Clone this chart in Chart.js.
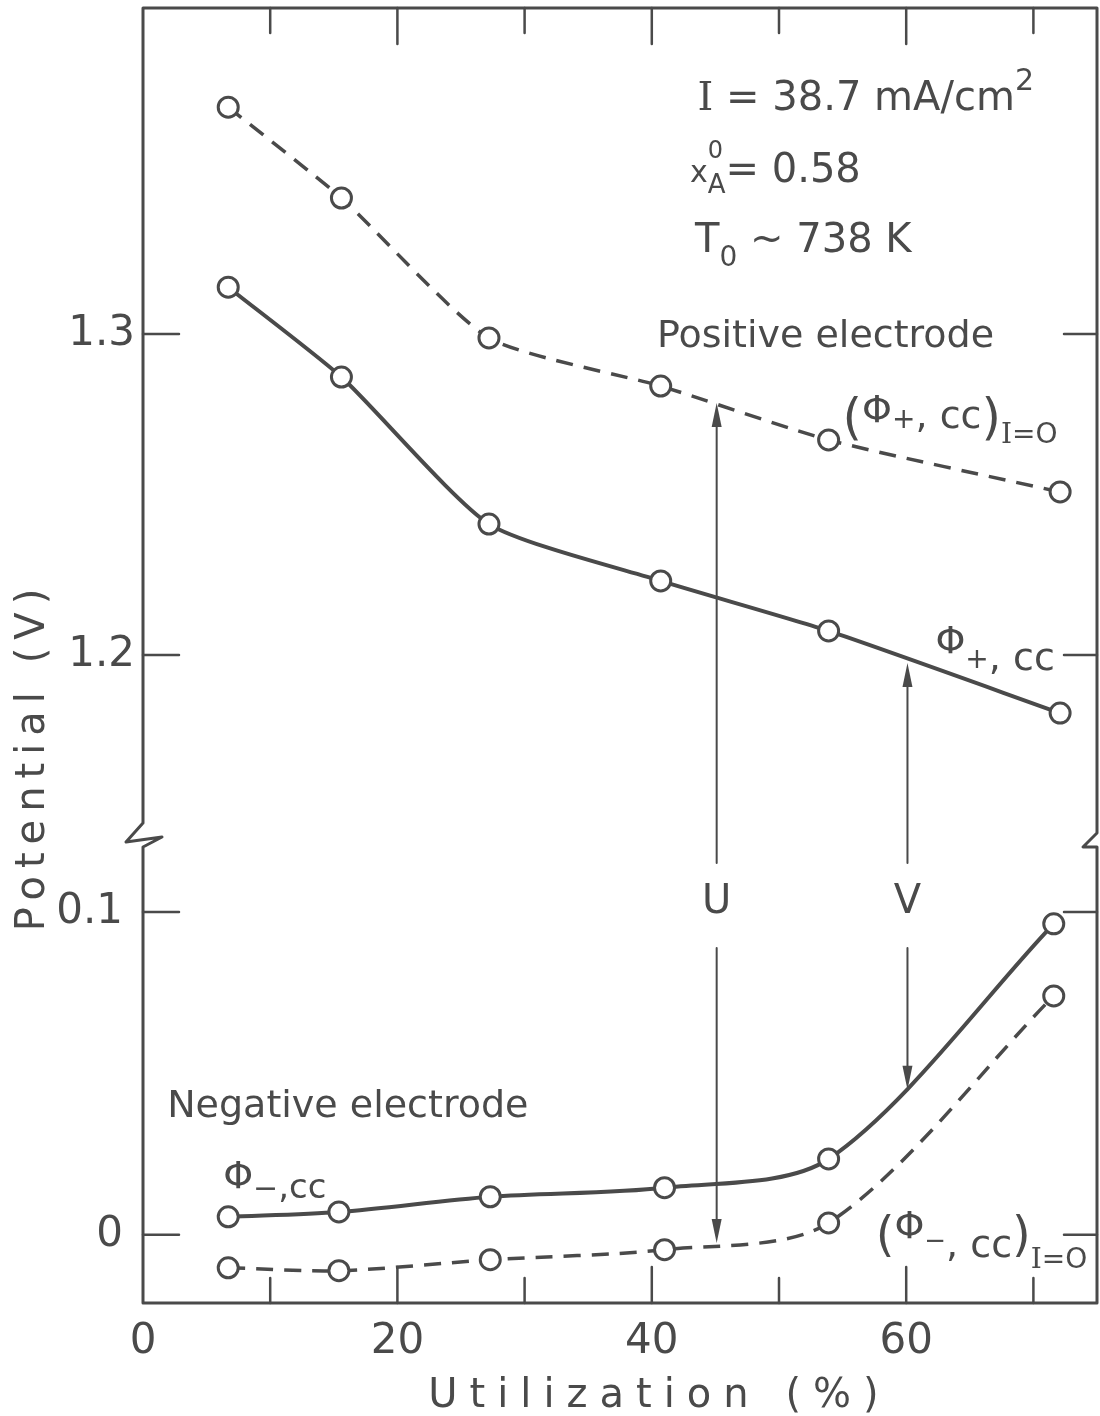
<!DOCTYPE html>
<html>
<head>
<meta charset="utf-8">
<script src="https://cdn.jsdelivr.net/npm/chart.js@4.4.1/dist/chart.umd.min.js"></script>
<style>
  html, body { margin: 0; padding: 0; background: #fff; }
</style>
</head>
<body>
<canvas id="chart" width="1100" height="1416"></canvas>
<script>
// Utilization (%) of the measured points
const utilPos = [6.7, 15.6, 27.2, 40.7, 53.9, 72.1];
const utilNeg = [6.7, 15.4, 27.3, 41.0, 53.9, 71.6];

// Potentials (V)
const phiPlusOpen  = [1.3707, 1.3424, 1.2988, 1.2838, 1.2670, 1.2508];   // (Φ+,cc) I=0
const phiPlus      = [1.3146, 1.2866, 1.2408, 1.2231, 1.2075, 1.1819];   // Φ+,cc
const phiMinus     = [0.0056, 0.0071, 0.0118, 0.0146, 0.0235, 0.0963];   // Φ-,cc
const phiMinusOpen = [-0.0102, -0.0111, -0.0077, -0.0046, 0.0037, 0.0740]; // (Φ-,cc) I=0

// axes
const xTicks = [0, 10, 20, 30, 40, 50, 60, 70];
const xLabels = [0, 20, 40, 60];
const upperTicks = [1.2, 1.3];
const lowerTicks = [0, 0.1];

const ink = '#4a4a4a';
const SANS = '"DejaVu Sans"';
const SERIF = '"DejaVu Serif"';

// U / V arrows: x in %, tips in V on the upper / lower axis
const arrows = [
  { label: 'U', x: 45.1, top: 1.2785, bottom: -0.0025 },
  { label: 'V', x: 60.1, top: 1.1975, bottom: 0.0449 },
];
const arrowLabelAt = 0.1028;

// text notes, anchored at left/baseline in data units
const notes = [
  { x: 43.6, y: 1.3698, axis: 'yHigh', runs: [{ t: 'I', size: 40, serif: true }, { t: ' = 38.7 mA/cm', size: 40 }, { t: '2', size: 30, dy: -20 }] },
  { x: 43.0, y: 1.3474, axis: 'yHigh', runs: [{ t: 'x', size: 30 }, { t: '0', size: 24, dy: -24, hold: true }, { t: 'A', size: 26, dy: 11 }, { t: '= 0.58', size: 40 }] },
  { x: 43.4, y: 1.3255, axis: 'yHigh', runs: [{ t: 'T', size: 40 }, { t: '0', size: 28, dy: 14 }, { t: ' ~ 738 K', size: 40 }] },
  { x: 40.4, y: 1.2960, axis: 'yHigh', runs: [{ t: 'Positive electrode', size: 38 }] },
  { x: 55.0, y: 1.2707, axis: 'yHigh', runs: [{ t: '(', size: 50, dy: 6 }, { t: 'Φ', size: 38, dy: -6 }, { t: '+', size: 28 }, { t: ', cc', size: 38 }, { t: ')', size: 50, dy: 6 }, { t: 'I', size: 28, dy: 15, serif: true }, { t: '=O', size: 28, dy: 15 }] },
  { x: 62.3, y: 1.1953, axis: 'yHigh', runs: [{ t: 'Φ', size: 38, dy: -17 }, { t: '+', size: 28, dy: -2 }, { t: ', cc', size: 38 }] },
  { x: 1.9, y: 0.0365, axis: 'yLow', runs: [{ t: 'Negative electrode', size: 38 }] },
  { x: 6.3, y: 0.0115, axis: 'yLow', runs: [{ t: 'Φ', size: 38, dy: -10 }, { t: '−', size: 30 }, { t: ',cc', size: 34 }] },
  { x: 57.6, y: -0.0068, axis: 'yLow', runs: [{ t: '(', size: 48, dy: -6 }, { t: 'Φ', size: 38, dy: -19 }, { t: '−', size: 26, dy: -8 }, { t: ', cc', size: 38 }, { t: ')', size: 48, dy: -6 }, { t: 'I', size: 28, dy: 11, serif: true }, { t: '=O', size: 28, dy: 11 }] },
];

function series(label, xs, ys, axis, dashed, tension) {
  return {
    label,
    yAxisID: axis,
    data: xs.map((x, i) => ({ x, y: ys[i] })),
    borderColor: ink,
    borderWidth: dashed ? 3.5 : 4,
    borderDash: dashed ? [17, 11] : [],
    pointRadius: 10,
    pointBorderWidth: 3,
    pointBackgroundColor: '#fff',
    pointBorderColor: ink,
    tension,
    fill: false,
    clip: false,
  };
}

function drawRuns(ctx, x, y, runs) {
  let cx = x;
  for (const r of runs) {
    ctx.font = r.size + 'px ' + (r.serif ? SERIF : SANS);
    ctx.fillText(r.t, cx, y + (r.dy || 0));
    if (!r.hold) cx += ctx.measureText(r.t).width;
  }
}

function arrowHead(ctx, x, tip, dir) {
  // dir = -1 points up, +1 points down
  ctx.beginPath();
  ctx.moveTo(x, tip);
  ctx.lineTo(x - 5, tip - dir * 24);
  ctx.lineTo(x + 5, tip - dir * 24);
  ctx.closePath();
  ctx.fill();
}

// keep the plot box exactly where the axes say, no label overhang padding
function fixBox(w, h) {
  return s => {
    if (w) s.width = w;
    if (h) s.height = h;
    s.paddingTop = s.paddingBottom = s.paddingLeft = s.paddingRight = 0;
  };
}

const paper = {
  id: 'paper',
  afterDraw(chart) {
    const { ctx, chartArea: a, scales } = chart;
    const xs = scales.x, yh = scales.yHigh, yl = scales.yLow;
    const brk = yh.bottom;
    ctx.save();
    ctx.strokeStyle = ink;
    ctx.fillStyle = ink;
    ctx.lineJoin = 'round';
    ctx.lineCap = 'round';

    // frame with break marks
    ctx.lineWidth = 3;
    ctx.beginPath();
    ctx.moveTo(a.left, brk - 14); ctx.lineTo(a.left, a.top); ctx.lineTo(a.right, a.top); ctx.lineTo(a.right, brk - 4);
    ctx.lineTo(a.right - 14, brk + 10); ctx.lineTo(a.right, brk + 10); ctx.lineTo(a.right, a.bottom);
    ctx.lineTo(a.left, a.bottom); ctx.lineTo(a.left, brk + 10);
    ctx.lineTo(a.left + 19, brk); ctx.lineTo(a.left - 17, brk + 5); ctx.lineTo(a.left, brk - 14);
    ctx.stroke();

    // inward ticks
    ctx.lineWidth = 2.5;
    ctx.beginPath();
    xs.ticks.forEach(t => {
      if (t.value === xs.min) return;
      const p = xs.getPixelForValue(t.value);
      const len = xLabels.includes(t.value) ? 36 : 25;
      ctx.moveTo(p, a.bottom); ctx.lineTo(p, a.bottom - len);
      ctx.moveTo(p, a.top); ctx.lineTo(p, a.top + len);
    });
    [yh, yl].forEach(s => s.ticks.forEach(t => {
      const p = s.getPixelForValue(t.value);
      ctx.moveTo(a.left, p); ctx.lineTo(a.left + 36, p);
      ctx.moveTo(a.right, p); ctx.lineTo(a.right - 33, p);
    }));
    ctx.stroke();

    // U and V arrows
    ctx.lineWidth = 2;
    ctx.font = '40px ' + SANS;
    ctx.textAlign = 'center';
    ctx.textBaseline = 'middle';
    arrows.forEach(ar => {
      const x = xs.getPixelForValue(ar.x);
      const top = yh.getPixelForValue(ar.top);
      const bot = yl.getPixelForValue(ar.bottom);
      const mid = yl.getPixelForValue(arrowLabelAt);
      ctx.beginPath();
      ctx.moveTo(x, top + 20); ctx.lineTo(x, mid - 40);
      ctx.moveTo(x, mid + 45); ctx.lineTo(x, bot - 20);
      ctx.stroke();
      arrowHead(ctx, x, top, -1);
      arrowHead(ctx, x, bot, 1);
      ctx.fillText(ar.label, x, mid);
    });

    // notes
    ctx.textAlign = 'left';
    ctx.textBaseline = 'alphabetic';
    notes.forEach(n => {
      drawRuns(ctx, xs.getPixelForValue(n.x), scales[n.axis].getPixelForValue(n.y), n.runs);
    });

    // axis titles (letter-spaced lettering)
    ctx.font = '40px ' + SANS;
    ctx.letterSpacing = '12px';
    const xt = 'Utilization (%)';
    const xw = ctx.measureText(xt).width;
    ctx.fillText(xt, xs.getPixelForValue(40.6) - xw / 2, a.bottom + 104);

    ctx.letterSpacing = '8px';
    const yt = 'Potential (V)';
    const yw = ctx.measureText(yt).width;
    ctx.translate(44, a.top + 748);
    ctx.rotate(-Math.PI / 2);
    ctx.fillText(yt, -yw / 2, 0);
    ctx.letterSpacing = '0px';
    ctx.restore();
  }
};

const tickFont = { family: 'DejaVu Sans', size: 42 };

new Chart(document.getElementById('chart'), {
  type: 'line',
  data: {
    datasets: [
      series('(Φ+,cc) I=0', utilPos, phiPlusOpen, 'yHigh', true, 0.2),
      series('Φ+,cc', utilPos, phiPlus, 'yHigh', false, 0.2),
      series('Φ−,cc', utilNeg, phiMinus, 'yLow', false, 0.3),
      series('(Φ−,cc) I=0', utilNeg, phiMinusOpen, 'yLow', true, 0.3),
    ],
  },
  options: {
    responsive: false,
    animation: false,
    devicePixelRatio: 1,
    layout: { autoPadding: false, padding: { top: 8, right: 3, left: 0, bottom: 0 } },
    plugins: { legend: { display: false }, tooltip: { enabled: false } },
    scales: {
      x: {
        type: 'linear', min: 0, max: 75,
        grid: { display: false, drawTicks: false }, border: { display: false },
        afterBuildTicks: s => { s.ticks = xTicks.map(v => ({ value: v })); },
        ticks: { callback: v => (xLabels.includes(v) ? String(v) : ''), font: tickFont, color: ink, padding: 14, maxRotation: 0, autoSkip: false },
        afterFit: fixBox(0, 113),
      },
      yHigh: {
        type: 'linear', position: 'left', stack: 'v', stackWeight: 829, weight: 1,
        min: 1.1433, max: 1.4016,
        grid: { display: false, drawTicks: false }, border: { display: false },
        afterBuildTicks: s => { s.ticks = upperTicks.map(v => ({ value: v })); },
        ticks: { callback: v => String(v), font: tickFont, color: ink, padding: 8 },
        afterFit: fixBox(143, 0),
      },
      yLow: {
        type: 'linear', position: 'left', stack: 'v', stackWeight: 466, weight: 0,
        min: -0.0211, max: 0.1232,
        grid: { display: false, drawTicks: false }, border: { display: false },
        afterBuildTicks: s => { s.ticks = lowerTicks.map(v => ({ value: v })); },
        ticks: { callback: v => String(v), font: tickFont, color: ink, padding: 20 },
        afterFit: fixBox(143, 0),
      },
    },
  },
  plugins: [paper],
});
</script>
</body>
</html>
